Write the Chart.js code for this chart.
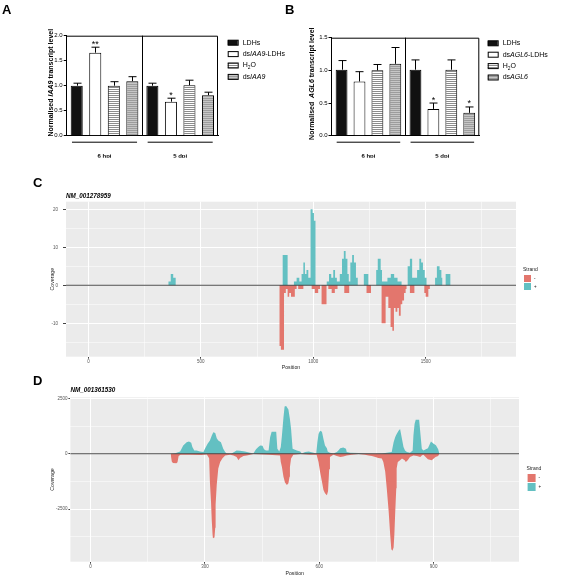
<!DOCTYPE html>
<html>
<head>
<meta charset="utf-8">
<title>Figure</title>
<script src="https://cdn.jsdelivr.net/npm/chart.js@4.4.1/dist/chart.umd.min.js"></script>
<style>
  html, body { margin: 0; padding: 0; background: #fff; }
  #wrap { position: relative; width: 565px; height: 577px; overflow: hidden; }
  canvas { position: absolute; }
</style>
</head>
<body>
<div id="wrap">
  <canvas id="chartA" width="300" height="172" style="left:0;top:0"></canvas>
  <canvas id="chartB" width="283" height="172" style="left:282px;top:0"></canvas>
  <canvas id="chartC" width="565" height="200" style="left:0;top:175px"></canvas>
  <canvas id="chartD" width="565" height="207" style="left:0;top:370px"></canvas>
</div>
<script>
// ---- data: panels A and B (qPCR bars) ----
const groups = ['6 hpi', '5 dpi'];

const namesA = ['LDHs', 'dsIAA9-LDHs', 'H2O', 'dsIAA9'];
const meanA_LDHs = [1.00, 1.00];
const meanA_dsLDHs = [1.66, 0.68];
const meanA_H2O = [1.00, 1.01];
const meanA_ds = [1.09, 0.81];
const errA_LDHs = [0.05, 0.05];
const errA_dsLDHs = [0.11, 0.07];
const errA_H2O = [0.08, 0.10];
const errA_ds = [0.09, 0.06];
const starsA = [['', ''], ['**', '*'], ['', ''], ['', '']];

const namesB = ['LDHs', 'dsAGL6-LDHs', 'H2O', 'dsAGL6'];
const meanB_LDHs = [1.01, 1.01];
const meanB_dsLDHs = [0.83, 0.41];
const meanB_H2O = [1.00, 1.01];
const meanB_ds = [1.10, 0.35];
const errB_LDHs = [0.14, 0.15];
const errB_dsLDHs = [0.15, 0.09];
const errB_H2O = [0.09, 0.15];
const errB_ds = [0.25, 0.09];
const starsB = [['', ''], ['', '*'], ['', ''], ['', '*']];

// ---- grid/tick positions of the coverage panels (labels on the majors) ----
const ticksC_x = [0, 250, 500, 750, 1000, 1250, 1500, 1750];
const ticksC_y = [-15, -10, -5, 0, 5, 10, 15, 20];
const ticksD_x = [0, 150, 300, 450, 600, 750, 900, 1050];
const ticksD_y = [-3750, -2500, -1250, 0, 1250, 2500];

// ---- data: panel C (NM_001278959 coverage, one value per bin start) ----
const posC_plus = [355, 366, 377, 388, 864, 886,
  914, 926, 938, 948, 956, 963, 970, 978, 988, 997, 1003, 1010,
  1060, 1070, 1080, 1089, 1097, 1105, 1118, 1128, 1136, 1144, 1152, 1158,
  1165, 1173, 1181, 1190, 1198, 1225, 1245, 1280, 1287, 1300, 1306,
  1330, 1345, 1360, 1375, 1393, 1420, 1430, 1440, 1462, 1472, 1480, 1488, 1496, 1504,
  1542, 1550, 1562, 1570, 1574, 1589, 1611];
const covC_plus = [1, 3, 2, 0, 8, 0,
  1, 2, 1, 3, 6, 3, 4, 2, 20, 19, 17, 0,
  1, 3, 2, 4, 2, 1, 3, 7, 9, 7, 3, 1,
  6, 8, 6, 2, 0, 3, 0, 4, 7, 4, 1,
  2, 3, 2, 1, 0, 5, 7, 2, 4, 7, 6, 4, 2, 0,
  2, 5, 4, 2, 0, 3, 0];
const posC_minus = [849, 856, 870, 878, 886, 893, 901, 918, 926,
  933, 956, 993, 1007, 1022, 1030, 1037, 1059,
  1067, 1082, 1096, 1108, 1138, 1160, 1237, 1257,
  1304, 1322, 1334, 1344, 1352, 1359, 1366, 1374, 1381, 1389, 1396, 1404, 1411, 1415,
  1430, 1450, 1494, 1500, 1512, 1519];
const covC_minus = [-16, -17, -2, -1, -3, -2, -3, -1, 0,
  -1, 0, -1, -2, -1, 0, -5, 0,
  -1, -2, -1, 0, -2, 0, -2, 0,
  -10, -3, -6, -11, -12, -6, -7, -6, -8, -5, -4, -2, -1, 0,
  -2, 0, -2, -3, -1, 0];

// ---- data: panel D (NM_001361530 coverage) ----
const posD_plus = [212, 222, 235, 243, 252, 258, 264, 267, 272, 278,
  287, 296, 300, 307, 313, 318, 322, 327, 331, 335,
  342, 348, 353, 357, 370, 383, 392, 405, 418, 427,
  434, 440, 445, 451, 455, 460, 467, 471, 475, 487,
  490, 495, 499, 502, 506, 509, 513, 519, 523, 526,
  530, 541, 550, 554, 563, 572, 585, 592, 595, 598,
  602, 607, 611, 615, 620, 622, 628, 637, 646, 650,
  655, 663, 670, 672, 681, 703, 720, 747, 764, 790,
  795, 799, 803, 808, 812, 817, 821, 825, 830, 838,
  845, 847, 850, 853, 862, 865, 869, 873, 885, 893,
  900, 906, 912, 915];
const covD_plus = [0, 20, 100, 370, 520, 550, 500, 300, 150, 150,
  100, 80, 220, 450, 600, 820, 970, 940, 700, 600,
  520, 220, 75, 10, 10, 150, 130, 100, 45, 10,
  200, 300, 370, 360, 200, 150, 150, 740, 990, 990,
  220, 100, 300, 820, 1640, 2130, 2160, 2000, 1560, 1120,
  220, 150, 100, 10, 75, 100, 45, 10, 520, 890,
  1040, 990, 670, 370, 250, 100, 45, 10, 75, 150,
  250, 280, 220, 75, 45, 30, 15, 0, 5, 75,
  520, 740, 890, 1040, 1120, 670, 300, 150, 75, 45,
  150, 820, 1340, 1530, 1530, 970, 220, 150, 250, 550,
  450, 380, 200, 0];
const posD_minus = [210, 213, 216, 225, 228, 231, 236, 260, 290, 305,
  311, 313, 316, 318, 320, 321, 325, 327, 328, 331,
  335, 340, 346, 353, 366, 375, 383, 388, 392, 401,
  410, 427, 467, 497, 499, 502, 506, 510, 515, 519,
  522, 523, 526, 532, 550, 576, 593, 598, 602, 607,
  611, 615, 620, 623, 626, 628, 637, 646, 655, 663,
  672, 685, 703, 720, 729, 738, 747, 755, 764, 768,
  773, 777, 782, 786, 789, 792, 795, 797, 799, 802,
  803, 806, 812, 817, 824, 827, 832, 838, 847, 856,
  865, 869, 873, 885, 895, 905, 912, 915];
const covD_minus = [0, -350, -420, -430, -380, -100, -50, -50, -60, -30,
  -200, -1265, -2200, -3050, -3650, -3820, -3790, -3350, -2300, -1400,
  -670, -370, -200, -75, -45, -75, -150, -300, -190, -100,
  -75, -15, -45, -75, -370, -600, -1040, -1300, -1410, -1340,
  -1040, -600, -220, -45, -15, -45, -45, -370, -820, -1265,
  -1640, -1790, -1880, -1700, -700, -150, -45, -100, -150, -120,
  -75, -45, -15, -45, -75, -100, -150, -190, -220, -370,
  -820, -1560, -2600, -3650, -4320, -4390, -4240, -3650, -2750, -1560,
  -670, -370, -300, -220, -300, -370, -300, -150, -75, -100,
  -150, -75, -45, -250, -300, -150, -100, 0];

// ---- look ----
const FONT = '"Liberation Sans", Arial, sans-serif';
const RED = '#E3766D';
const TEAL = '#63C0C2';
Chart.defaults.font.family = FONT;
Chart.defaults.color = '#000';

function stripePattern(fill, line) {
  const c = document.createElement('canvas');
  c.width = 4;
  c.height = 2;
  const g = c.getContext('2d');
  g.fillStyle = fill;
  g.fillRect(0, 0, 4, 2);
  g.fillStyle = line;
  g.fillRect(0, 1, 4, 1);
  return g.createPattern(c, 'repeat');
}

const barFills = ['#111111', '#ffffff', stripePattern('#ffffff', '#8c8c8c'), stripePattern('#9c9c9c', '#c6c6c6')];

// text made of pieces: [text, ''|'i'|'sub']
function drawRich(ctx, parts, x, y, size, weight, align) {
  const items = parts.map(([t, s]) => {
    const sz = s === 'sub' ? size * 0.7 : size;
    const font = (s === 'i' ? 'italic ' : '') + weight + ' ' + sz + 'px ' + FONT;
    ctx.font = font;
    return { t, s, font, w: ctx.measureText(t).width };
  });
  const total = items.reduce((a, b) => a + b.w, 0);
  let cx = align === 'center' ? x - total / 2 : x;
  ctx.textAlign = 'left';
  ctx.textBaseline = 'middle';
  items.forEach(p => {
    ctx.font = p.font;
    ctx.fillText(p.t, cx, p.s === 'sub' ? y + size * 0.3 : y);
    cx += p.w;
  });
}

const barDecor = {
  id: 'barDecor',
  afterDraw(chart, args, o) {
    const ctx = chart.ctx;
    const area = chart.chartArea;
    const xs = chart.scales.x;
    const ys = chart.scales.y;
    ctx.save();
    ctx.strokeStyle = '#000';
    ctx.fillStyle = '#000';
    ctx.lineWidth = 1;

    // error bars and stars
    chart.data.datasets.forEach((ds, i) => {
      chart.getDatasetMeta(i).data.forEach((bar, j) => {
        const top = ys.getPixelForValue(ds.data[j] + ds.errors[j]);
        const x = Math.round(bar.x) + 0.5;
        ctx.beginPath();
        ctx.moveTo(x, bar.y);
        ctx.lineTo(x, top);
        ctx.moveTo(x - 4, top);
        ctx.lineTo(x + 4, top);
        ctx.stroke();
        if (ds.stars[j]) {
          ctx.font = '9px ' + FONT;
          ctx.textAlign = 'center';
          ctx.textBaseline = 'alphabetic';
          ctx.fillText(ds.stars[j], bar.x, top - 0.5);
        }
      });
    });

    // frame + divider between groups
    const mid = Math.round(xs.getPixelForValue(0.5)) + 0.5;
    ctx.beginPath();
    ctx.moveTo(area.left, area.top + 0.5);
    ctx.lineTo(area.right - 0.5, area.top + 0.5);
    ctx.lineTo(area.right - 0.5, area.bottom);
    ctx.moveTo(mid, area.top);
    ctx.lineTo(mid, area.bottom);
    ctx.stroke();

    // group underlines
    const step = xs.getPixelForValue(1) - xs.getPixelForValue(0);
    chart.data.labels.forEach((lab, j) => {
      const c = xs.getPixelForValue(j);
      ctx.beginPath();
      ctx.moveTo(c - step * 0.43, area.bottom + 6.5);
      ctx.lineTo(c + step * 0.43, area.bottom + 6.5);
      ctx.stroke();
    });

    // legend
    chart.data.datasets.forEach((ds, i) => {
      const y = o.legendY + i * 11.4;
      ctx.fillStyle = ds.backgroundColor;
      ctx.fillRect(o.legendX, y - 2.5, 10, 5);
      ctx.strokeRect(o.legendX + 0.5, y - 2.5, 10, 5);
      ctx.fillStyle = '#000';
      drawRich(ctx, o.legendLabels[i], o.legendX + 15, y, 7, 'normal', 'left');
    });

    // y title
    ctx.save();
    ctx.translate(o.yTitleX, (area.top + area.bottom) / 2 - 3);
    ctx.rotate(-Math.PI / 2);
    drawRich(ctx, o.yTitle, 0, 0, 7, 'bold', 'center');
    ctx.restore();

    // panel letter
    ctx.font = 'bold 13px ' + FONT;
    ctx.textAlign = 'left';
    ctx.textBaseline = 'alphabetic';
    ctx.fillText(o.letter, o.letterX, o.letterY);
    ctx.restore();
  }
};

function barChart(id, cfg) {
  const datasets = cfg.names.map((name, i) => ({
    label: name,
    data: cfg.means[i],
    errors: cfg.errors[i],
    stars: cfg.stars[i],
    backgroundColor: barFills[i],
    borderColor: '#000',
    borderWidth: 1,
    barPercentage: cfg.barPct,
    categoryPercentage: cfg.catPct
  }));
  return new Chart(document.getElementById(id), {
    type: 'bar',
    data: { labels: groups, datasets: datasets },
    options: {
      responsive: false,
      animation: false,
      events: [],
      layout: { padding: cfg.padding },
      scales: {
        x: {
          ticks: { font: { size: 6, weight: 'bold' }, color: '#000', padding: 9 },
          grid: { display: false },
          border: { color: '#000', width: 1 },
          afterFit: s => { s.height = 22; }
        },
        y: {
          min: 0,
          max: cfg.yMax,
          ticks: { stepSize: 0.5, callback: v => v.toFixed(1), font: { size: 6 }, color: '#000', padding: 1 },
          grid: { drawOnChartArea: false, tickLength: 3, tickColor: '#000' },
          border: { color: '#000', width: 1 },
          afterFit: s => { s.width = cfg.yWidth; }
        }
      },
      plugins: { legend: { display: false }, tooltip: { enabled: false }, barDecor: cfg.decor }
    },
    plugins: [barDecor]
  });
}

barChart('chartA', {
  names: namesA,
  means: [meanA_LDHs, meanA_dsLDHs, meanA_H2O, meanA_ds],
  errors: [errA_LDHs, errA_dsLDHs, errA_H2O, errA_ds],
  stars: starsA,
  yMax: 2,
  barPct: 0.65,
  catPct: 0.98,
  yWidth: 66.7,
  padding: { left: 0, right: 82, top: 35.7, bottom: 14.3 },
  decor: {
    letter: 'A', letterX: 2, letterY: 14,
    yTitleX: 51,
    yTitle: [['Normalised ', ''], ['IAA9', 'i'], [' transcript level', '']],
    legendX: 227.7, legendY: 42.7,
    legendLabels: [
      [['LDHs', '']],
      [['ds', ''], ['IAA9', 'i'], ['-LDHs', '']],
      [['H', ''], ['2', 'sub'], ['O', '']],
      [['ds', ''], ['IAA9', 'i']]
    ]
  }
});

barChart('chartB', {
  names: namesB,
  means: [meanB_LDHs, meanB_dsLDHs, meanB_H2O, meanB_ds],
  errors: [errB_LDHs, errB_dsLDHs, errB_H2O, errB_ds],
  stars: starsB,
  yMax: 1.5,
  barPct: 0.66,
  catPct: 0.97,
  yWidth: 49.5,
  padding: { left: 0, right: 85.7, top: 37.7, bottom: 14.3 },
  decor: {
    letter: 'B', letterX: 3, letterY: 14,
    yTitleX: 30,
    yTitle: [['Normalised  ', ''], ['AGL6', 'i'], [' transcript level', '']],
    legendX: 205.7, legendY: 43.3,
    legendLabels: [
      [['LDHs', '']],
      [['ds', ''], ['AGL6', 'i'], ['-LDHs', '']],
      [['H', ''], ['2', 'sub'], ['O', '']],
      [['ds', ''], ['AGL6', 'i']]
    ]
  }
});

// ---- coverage panels ----
const covDecor = {
  id: 'covDecor',
  beforeDraw(chart) {
    const a = chart.chartArea;
    const ctx = chart.ctx;
    ctx.save();
    ctx.fillStyle = '#EBEBEB';
    ctx.fillRect(a.left, a.top, a.right - a.left, a.bottom - a.top);
    ctx.restore();
  },
  afterDatasetsDraw(chart) {
    const a = chart.chartArea;
    const ctx = chart.ctx;
    const y0 = chart.scales.y.getPixelForValue(0);
    ctx.save();
    ctx.strokeStyle = '#3a3a3a';
    ctx.lineWidth = 0.9;
    ctx.beginPath();
    ctx.moveTo(a.left, y0);
    ctx.lineTo(a.right, y0);
    ctx.stroke();
    ctx.restore();
  },
  afterDraw(chart, args, o) {
    const a = chart.chartArea;
    const ctx = chart.ctx;
    ctx.save();
    ctx.fillStyle = '#000';
    ctx.textBaseline = 'alphabetic';
    ctx.textAlign = 'left';
    ctx.font = 'bold 13px ' + FONT;
    ctx.fillText(o.letter, o.letterX, o.letterY);

    ctx.textBaseline = 'middle';
    ctx.font = 'italic bold 6.3px ' + FONT;
    ctx.fillText(o.title, a.left, o.titleY);

    ctx.fillStyle = '#222';
    ctx.font = '5.2px ' + FONT;
    ctx.textAlign = 'center';
    ctx.fillText('Position', (a.left + a.right) / 2, o.xTitleY);
    ctx.save();
    ctx.translate(53, (a.top + a.bottom) / 2);
    ctx.rotate(-Math.PI / 2);
    ctx.fillText('Coverage', 0, 0);
    ctx.restore();

    // legend
    ctx.textAlign = 'left';
    ctx.font = '5px ' + FONT;
    ctx.fillText('Strand', o.legendX, o.legendY);
    chart.data.datasets.forEach((ds, i) => {
      const y = o.legendY + 5 + i * (o.box + 1);
      ctx.fillStyle = ds.backgroundColor;
      ctx.fillRect(o.legendX + 1, y, o.box, o.box);
      ctx.fillStyle = '#222';
      ctx.font = '4.5px ' + FONT;
      ctx.fillText(ds.label, o.legendX + o.box + 4, y + o.box / 2);
    });
    ctx.restore();
  }
};

function axisCfg(min, max, values, major, tickLen, pad, fit) {
  const isMajor = v => Math.abs(v % major) < 1e-9;
  return {
    type: 'linear',
    min: min,
    max: max,
    afterBuildTicks: s => { s.ticks = values.map(v => ({ value: v })); },
    ticks: {
      autoSkip: false,
      maxRotation: 0,
      font: { size: 4.5 },
      color: '#555555',
      padding: pad,
      callback: v => isMajor(v) ? String(v) : ''
    },
    grid: {
      color: '#FFFFFF',
      lineWidth: c => (c.tick && isMajor(c.tick.value)) ? 1 : 0.5,
      tickColor: c => (c.tick && isMajor(c.tick.value)) ? '#444' : 'rgba(0,0,0,0)',
      tickLength: tickLen
    },
    border: { display: false },
    afterFit: fit
  };
}

// bins (start position, coverage until next start) -> corner points of the step outline
function binPoints(pos, cov) {
  const pts = [{ x: pos[0], y: 0 }];
  pos.forEach((x, i) => {
    if (i > 0) pts.push({ x: x, y: cov[i - 1] });
    pts.push({ x: x, y: cov[i] });
  });
  return pts;
}

function curvePoints(pos, cov) {
  return pos.map((x, i) => ({ x: x, y: cov[i] }));
}

function coverageChart(id, cfg) {
  const mk = cfg.binned ? binPoints : curvePoints;
  return new Chart(document.getElementById(id), {
    type: 'line',
    data: {
      datasets: [
        { label: '-', data: mk(cfg.minusPos, cfg.minusCov), backgroundColor: RED },
        { label: '+', data: mk(cfg.plusPos, cfg.plusCov), backgroundColor: TEAL }
      ].map(d => Object.assign(d, {
        fill: 'origin',
        borderWidth: 0,
        borderColor: 'rgba(0,0,0,0)',
        pointRadius: 0,
        tension: 0
      }))
    },
    options: {
      responsive: false,
      animation: false,
      events: [],
      layout: { padding: cfg.padding },
      scales: {
        x: axisCfg(cfg.xMin, cfg.xMax, cfg.xTicks, cfg.xMajor, 2, 0.5, s => { s.height = 10; }),
        y: axisCfg(cfg.yMin, cfg.yMax, cfg.yTicks, cfg.yMajor, cfg.yTick, cfg.yPad, s => { s.width = cfg.yWidth; })
      },
      plugins: { legend: { display: false }, tooltip: { enabled: false }, covDecor: cfg.decor }
    },
    plugins: [covDecor]
  });
}

coverageChart('chartC', {
  plusPos: posC_plus, plusCov: covC_plus,
  minusPos: posC_minus, minusCov: covC_minus,
  binned: true,
  xMin: -100, xMax: 1902, xTicks: ticksC_x, xMajor: 500,
  yMin: -18.8, yMax: 22, yTicks: ticksC_y, yMajor: 10,
  yTick: 3, yPad: 5, yWidth: 66,
  padding: { left: 0, right: 49, top: 26.7, bottom: 8.3 },
  decor: { letter: 'C', letterX: 33, letterY: 11.5, title: 'NM_001278959', titleY: 20.8, xTitleY: 192.5, legendX: 523, legendY: 95, box: 7 }
});

coverageChart('chartD', {
  plusPos: posD_plus, plusCov: covD_plus,
  minusPos: posD_minus, minusCov: covD_minus,
  binned: false,
  xMin: -53, xMax: 1124, xTicks: ticksD_x, xMajor: 300,
  yMin: -4880, yMax: 2550, yTicks: ticksD_y, yMajor: 2500,
  yTick: 2, yPad: 1, yWidth: 70.4,
  padding: { left: 0, right: 46, top: 27.3, bottom: 5.3 },
  decor: { letter: 'D', letterX: 33, letterY: 15, title: 'NM_001361530', titleY: 20, xTitleY: 203.3, legendX: 526.6, legendY: 99, box: 8 }
});
</script>
</body>
</html>
